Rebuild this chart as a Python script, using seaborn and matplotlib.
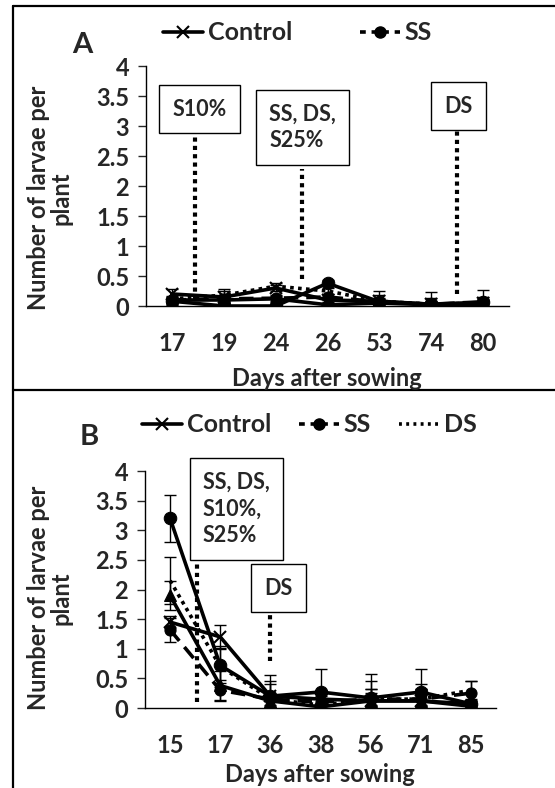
import matplotlib

matplotlib.use("Agg")
import matplotlib.pyplot as plt
from matplotlib.lines import Line2D
import seaborn as sns

# sampling days (x categories)
DAYS_A = ["17", "19", "24", "26", "53", "74", "80"]
DAYS_B = ["15", "17", "36", "38", "56", "71", "85"]

# panel A: mean larvae per plant
CONTROL_A = [0.20, 0.15, 0.30, 0.10, 0.08, 0.03, 0.05]
SS_A = [0.10, 0.12, 0.13, 0.15, 0.07, 0.03, 0.07]
DS_A = [0.12, 0.18, 0.33, 0.25, 0.08, 0.03, 0.05]
S10_A = [0.10, 0.10, 0.12, 0.02, 0.05, 0.02, 0.03]
S25_A = [0.08, 0.00, 0.00, 0.38, 0.07, 0.03, 0.06]

CONTROL_A_ERR = [0.08, 0.10, 0.05, 0.05, 0.10, 0.10, 0.10]
SS_A_ERR = [0.05, 0.05, 0.05, 0.05, 0.05, 0.05, 0.05]
DS_A_ERR = [0.05, 0.10, 0.05, 0.05, 0.05, 0.05, 0.05]
S10_A_ERR = [0.05, 0.05, 0.05, 0.05, 0.05, 0.05, 0.05]
S25_A_ERR = [0.05, 0.05, 0.05, 0.05, 0.18, 0.20, 0.20]

# panel B
CONTROL_B = [1.45, 1.20, 0.20, 0.15, 0.12, 0.12, 0.03]
SS_B = [1.32, 0.30, 0.15, 0.10, 0.15, 0.15, 0.25]
DS_B = [2.15, 0.70, 0.15, 0.05, 0.15, 0.15, 0.30]
S10_B = [1.90, 0.38, 0.12, 0.02, 0.12, 0.12, 0.07]
S25_B = [3.20, 0.72, 0.20, 0.27, 0.17, 0.27, 0.07]

CONTROL_B_ERR = [0.10, 0.20, 0.20, 0.15, 0.20, 0.20, 0.05]
SS_B_ERR = [0.20, 0.18, 0.10, 0.10, 0.10, 0.10, 0.20]
DS_B_ERR = [0.40, 0.35, 0.30, 0.20, 0.30, 0.25, 0.15]
S10_B_ERR = [0.25, 0.25, 0.10, 0.02, 0.20, 0.20, 0.05]
S25_B_ERR = [0.40, 0.30, 0.35, 0.38, 0.40, 0.38, 0.05]

Y_TICKS = [0, 0.5, 1, 1.5, 2, 2.5, 3, 3.5, 4]
Y_TICK_LABELS = ["0", "0.5", "1", "1.5", "2", "2.5", "3", "3.5", "4"]

STYLES = {
    "Control": dict(linestyle="-", marker="x", markersize=9, mew=1.5),
    "SS": dict(linestyle=(0, (4, 2.2)), marker="o", markersize=8),
    "DS": dict(linestyle=(0, (1, 1.2)), marker=None),
    "S10%": dict(linestyle="-", marker="^", markersize=8),
    "S25%": dict(linestyle="-", marker="o", markersize=9),
}
# legend handles use a shorter dash so the pattern shows around the marker
LEGEND_DASH = {"SS": (0, (1.6, 1.6)), "DS": (0, (0.8, 1.2))}

sns.set_style("white")
plt.rcParams["font.family"] = ["Lato", "DejaVu Sans"]
plt.rcParams["font.weight"] = "bold"
FS = 17

fig = plt.figure(figsize=(5.55, 7.88), dpi=100)
W, H = 555, 788


def fig_axes(x0, y_top, x1, y_bot):
    return fig.add_axes([x0 / W, 1 - y_bot / H, (x1 - x0) / W, (y_bot - y_top) / H])


def draw_panel(ax, days, series, errors):
    x = list(range(len(days)))
    for name, vals in series.items():
        st = STYLES[name]
        sns.lineplot(x=x, y=vals, ax=ax, color="black", lw=2.6, markeredgecolor="black",
                     **st)
        ax.errorbar(x, vals, yerr=errors[name], fmt="none", ecolor="black",
                    elinewidth=1, capsize=4, capthick=1)
    ax.set_xlim(-0.5, len(days) - 0.5)
    ax.set_ylim(0, 4)
    ax.set_xticks(x)
    ax.set_xticklabels(days, fontsize=FS)
    ax.set_xticks([i - 0.5 for i in range(len(days) + 1)], minor=True)
    ax.tick_params(axis="x", which="major", length=0, pad=19)
    ax.tick_params(axis="x", which="minor", length=9, width=1, direction="out")
    ax.set_yticks(Y_TICKS)
    ax.set_yticklabels(Y_TICK_LABELS, fontsize=FS)
    ax.tick_params(axis="y", length=6, width=1, direction="out", pad=6, left=True)
    ax.set_xlabel("")
    ax.set_ylabel("")
    for side in ["top", "right"]:
        ax.spines[side].set_visible(False)
    for side in ["left", "bottom"]:
        ax.spines[side].set_color("black")
        ax.spines[side].set_linewidth(1)
    ax.patch.set_alpha(0)


def note(ax, x, y, txt):
    ax.text(x, y, txt, fontsize=FS - 1.5, ha="center", va="center", multialignment="left",
            clip_on=False, zorder=5, linespacing=1.35,
            bbox=dict(boxstyle="square,pad=0.62", fc="white", ec="black", lw=1))


def dotted(ax, x, y0, y1):
    ax.plot([x, x], [y0, y1], color="black", lw=3, linestyle=(0, (1, 1)), zorder=4)


# ---- panel A
ax_a = fig_axes(146, 66, 509, 306)
draw_panel(
    ax_a, DAYS_A,
    {"Control": CONTROL_A, "SS": SS_A, "DS": DS_A, "S10%": S10_A, "S25%": S25_A},
    {"Control": CONTROL_A_ERR, "SS": SS_A_ERR, "DS": DS_A_ERR, "S10%": S10_A_ERR, "S25%": S25_A_ERR},
)
note(ax_a, 0.54, 3.28, "S10%")
note(ax_a, 2.52, 2.98, "SS, DS,\nS25%")
note(ax_a, 5.53, 3.33, "DS")
dotted(ax_a, 0.45, 0.1, 2.88)
dotted(ax_a, 2.5, 0.45, 2.28)
dotted(ax_a, 5.5, 0.2, 2.97)

# ---- panel B
ax_b = fig_axes(145, 471, 496, 708)
draw_panel(
    ax_b, DAYS_B,
    {"Control": CONTROL_B, "SS": SS_B, "DS": DS_B, "S10%": S10_B, "S25%": S25_B},
    {"Control": CONTROL_B_ERR, "SS": SS_B_ERR, "DS": DS_B_ERR, "S10%": S10_B_ERR, "S25%": S25_B_ERR},
)
note(ax_b, 1.32, 3.36, "SS, DS,\nS10%,\nS25%")
note(ax_b, 2.16, 2.02, "DS")
dotted(ax_b, 0.54, 0.1, 2.51)
dotted(ax_b, 2.0, 0.8, 1.65)


def handle(name):
    st = dict(STYLES[name])
    if name in LEGEND_DASH:
        st["linestyle"] = LEGEND_DASH[name]
    return Line2D([], [], color="black", lw=2.6, markeredgecolor="black", label=name, **st)


for ax, names, (lx, ly), cs in [
    (ax_a, ["Control", "SS"], (163, 33), 2.7),
    (ax_b, ["Control", "SS", "DS"], (142, 425), 1.1),
]:
    ax.legend(handles=[handle(n) for n in names], loc="center left",
              bbox_to_anchor=(lx / W, 1 - ly / H), bbox_transform=fig.transFigure,
              ncol=len(names), frameon=False, fontsize=FS + 1, handlelength=1.6,
              handletextpad=0.2, columnspacing=cs, borderaxespad=0, borderpad=0)

# x labels
fig.text(327 / W, 1 - 379 / H, "Days after sowing", fontsize=FS, ha="center", va="center")
fig.text(320 / W, 1 - 775 / H, "Days after sowing", fontsize=FS, ha="center", va="center")

# panel letters
fig.text(72 / W, 1 - 45 / H, "A", fontsize=21, fontweight="bold", ha="left", va="center")
fig.text(80 / W, 1 - 437 / H, "B", fontsize=21, fontweight="bold", ha="left", va="center")

# y labels
for yc in [198, 598]:
    fig.text(50 / W, 1 - yc / H, "Number of larvae per\nplant", fontsize=FS, rotation=90,
             ha="center", va="center", multialignment="center", linespacing=1.0)

# panel frame lines
for xs, ys in [((13, 555), (6, 6)), ((13, 13), (6, 788)), ((13, 555), (390, 390))]:
    fig.add_artist(Line2D([x / W for x in xs], [1 - y / H for y in ys],
                          color="black", lw=1.6))

fig.savefig("out.png", dpi=100)
